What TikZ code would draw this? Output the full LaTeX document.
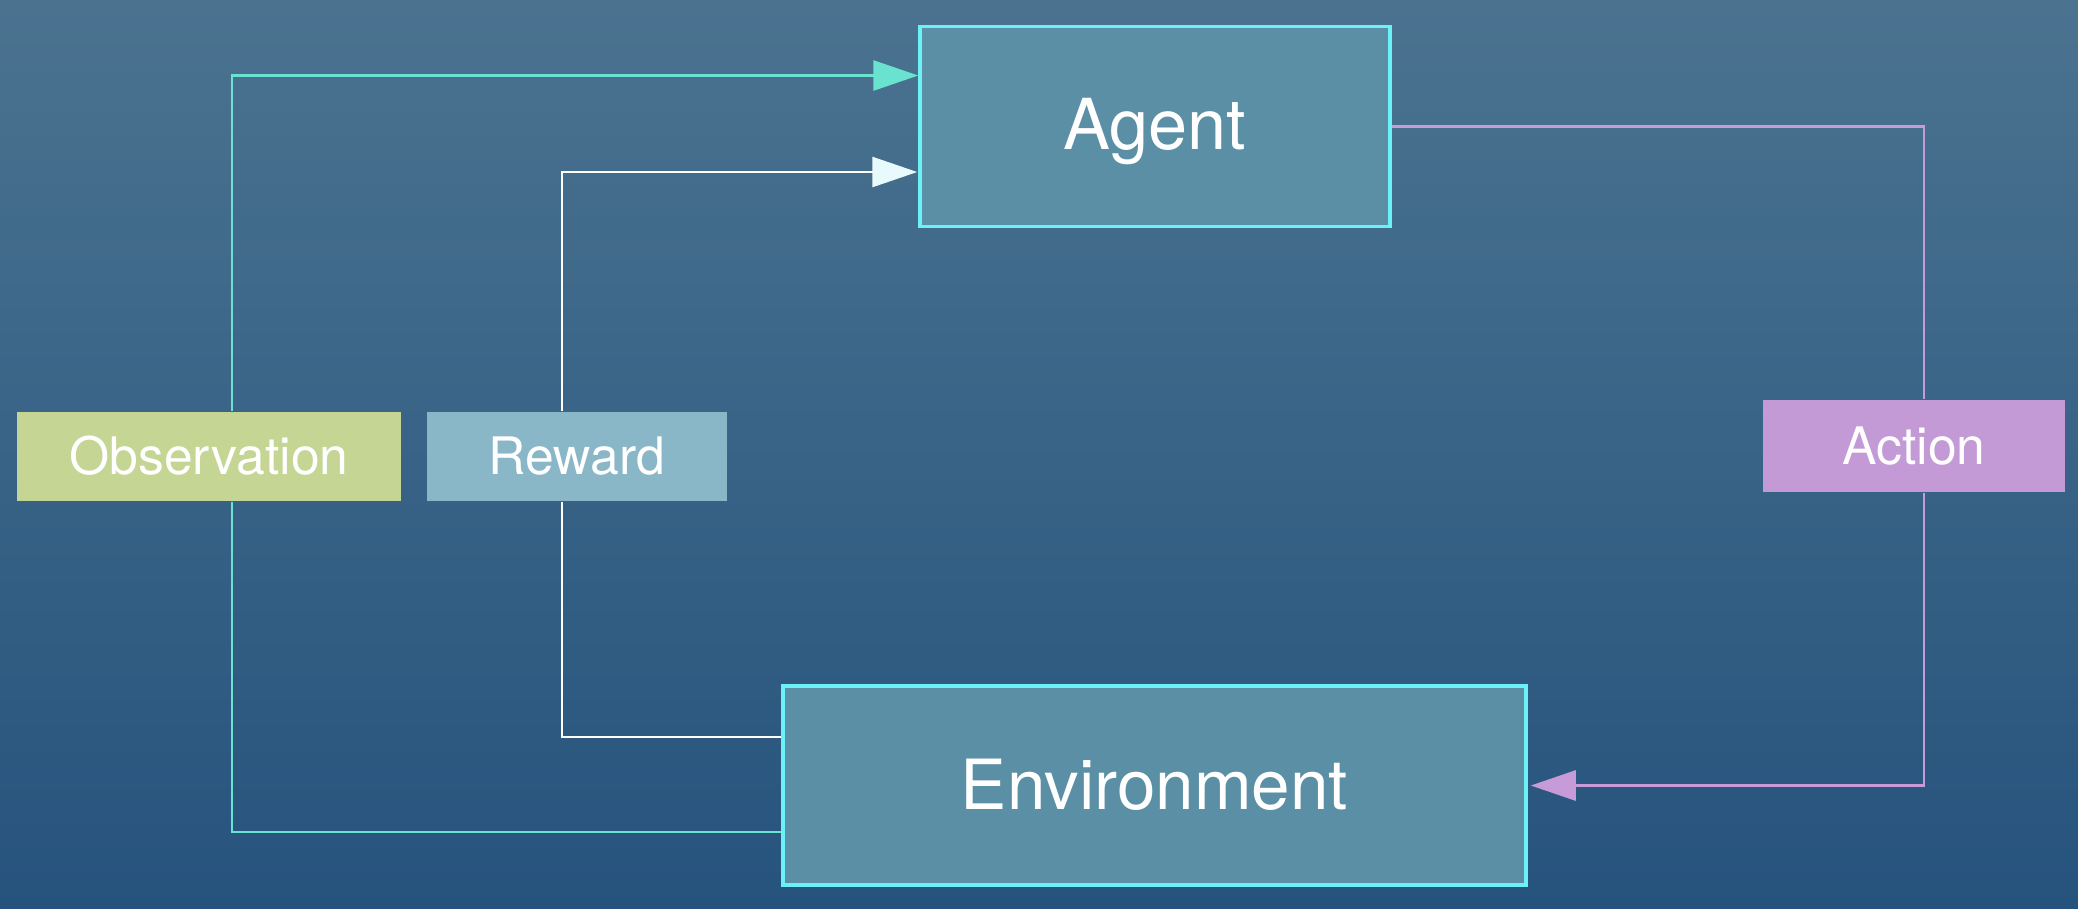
\documentclass[tikz,border=0pt]{standalone}
\usepackage{fontspec}
\setmainfont{TeX Gyre Heros}
\usepackage{tikz}
\usetikzlibrary{arrows.meta}
\definecolor{bgtop}{HTML}{4B7390}
\definecolor{bgbot}{HTML}{26537D}
\definecolor{boxfill}{HTML}{5B8FA5}
\definecolor{boxedge}{HTML}{6CF2F6}
\definecolor{obsfill}{HTML}{C5D593}
\definecolor{rewfill}{HTML}{8AB7C8}
\definecolor{actfill}{HTML}{C399D6}
\definecolor{obscol}{HTML}{69E2D0}
\definecolor{actcol}{HTML}{C79AD8}
\definecolor{rewhead}{HTML}{E8FAFC}
\pgfdeclarelayer{back}
\pgfdeclarelayer{wires}
\pgfsetlayers{back,wires,main}
\tikzset{
  bigbox/.style={draw=boxedge,fill=boxfill,line width=1pt,text=white,inner sep=0pt,
    text height=13.6pt,text depth=0pt,font=\fontsize{20}{24}\selectfont},
  tag/.style={text=white,inner sep=0pt,text height=10.3pt,text depth=0pt,
    font=\fontsize{14.7}{18}\selectfont},
  wire/.style={line width=0.8pt},
  tip/.style={-{Triangle[length=4.5mm,width=3mm,#1]}}
}

\begin{document}
\begin{tikzpicture}
\useasboundingbox (0,0) rectangle (20.78,-9.08);
\begin{pgfonlayer}{back}
\fill[top color=bgtop,bottom color=bgbot] (0,0) rectangle (20.78,-9.08);
\end{pgfonlayer}

\node[bigbox,minimum width=4.7cm,minimum height=2cm,text height=13.2pt] (agent) at (11.55,-1.265) {Agent};
\node[bigbox,minimum width=7.43cm,minimum height=1.99cm,font=\fontsize{19.7}{24}\selectfont] (env) at (11.545,-7.855) {Environment};
\node[tag,fill=obsfill,minimum width=3.84cm,minimum height=0.89cm] (obs) at (2.09,-4.565) {Observation};
\node[tag,fill=rewfill,minimum width=3cm,minimum height=0.89cm] (rew) at (5.77,-4.565) {Reward};
\node[tag,fill=actfill,minimum width=3.02cm,minimum height=0.92cm] (act) at (19.14,-4.46) {Action};

\begin{pgfonlayer}{wires}
\draw[wire,obscol] ([yshift=-0.465cm]env.west) -| ([xshift=0.23cm]obs.south);
\draw[wire,obscol,tip] ([xshift=0.23cm]obs.north) |- ([yshift=0.51cm]agent.west);
\draw[wire,white] ([yshift=0.485cm]env.west) -| ([xshift=-0.15cm]rew.south);
\draw[wire,white,tip={color=rewhead},shorten >=0.01cm] ([xshift=-0.15cm]rew.north) |- ([yshift=-0.455cm]agent.west);
\draw[wire,actcol] (agent.east) -| ([xshift=0.1cm]act.north);
\draw[wire,actcol,tip,shorten >=0.03cm] ([xshift=0.1cm]act.south) |- (env.east);
\end{pgfonlayer}
\end{tikzpicture}
\end{document}
